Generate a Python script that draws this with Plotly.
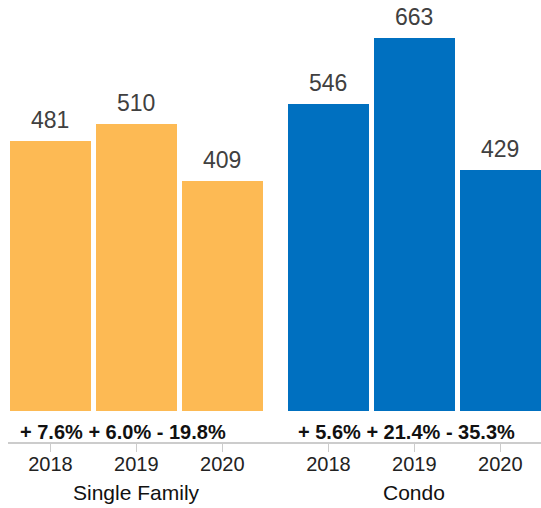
import plotly.graph_objects as go

# Sales counts by property type and year
years = ["2018", "2019", "2020"]
groups = ["Single Family", "Condo"]
single_family = [481, 510, 409]
condo = [546, 663, 429]
# Year-over-year change, percent
single_family_change = [7.6, 6.0, -19.8]
condo_change = [5.6, 21.4, -35.3]

colors = {"Single Family": "#FDBA54", "Condo": "#0070C0"}
font_family = "Liberation Sans, Arial, Helvetica, sans-serif"

group_gap = 0.235   # extra spacing between the two groups (in bar slots)
bar_width = 0.942

sf_pos = [i for i in range(len(years))]
condo_pos = [len(years) + group_gap + i for i in range(len(years))]


def fmt_change(v):
    sign = "+" if v >= 0 else "-"
    return f"{sign} {abs(v):.1f}%"


fig = go.Figure()
for name, pos, vals in [("Single Family", sf_pos, single_family),
                        ("Condo", condo_pos, condo)]:
    fig.add_trace(go.Bar(
        x=pos, y=vals, width=bar_width, name=name,
        marker=dict(color=colors[name], line=dict(width=0)),
        hoverinfo="skip",
    ))

annotations = []
# Value labels above each bar
for pos, vals in [(sf_pos, single_family), (condo_pos, condo)]:
    for p, v in zip(pos, vals):
        annotations.append(dict(
            x=p, y=v, xref="x", yref="y", text=str(v), showarrow=False,
            yanchor="bottom", yshift=6,
            font=dict(family=font_family, size=23, color="#404040"),
        ))

# Change strings under each group
for pos, changes in [(sf_pos, single_family_change), (condo_pos, condo_change)]:
    annotations.append(dict(
        x=pos[0] - bar_width / 2, y=0, xref="x", yref="y",
        text="<b>" + " ".join(fmt_change(c) for c in changes) + "</b>",
        showarrow=False, xanchor="left", yanchor="top", xshift=8, yshift=-8,
        font=dict(family=font_family, size=20, color="#111111"),
    ))

# Group titles
for pos, name in [(sf_pos, "Single Family"), (condo_pos, "Condo")]:
    annotations.append(dict(
        x=pos[1], y=0, xref="x", yref="paper", text=name, showarrow=False,
        yanchor="top", yshift=-37,
        font=dict(family=font_family, size=21, color="#111111"),
    ))

fig.update_layout(
    width=541, height=508,
    margin=dict(l=8, r=0, t=0, b=66),
    paper_bgcolor="white", plot_bgcolor="white",
    showlegend=False, bargap=0,
    annotations=annotations,
    xaxis=dict(
        range=[-0.494, 5.709],
        tickvals=sf_pos + condo_pos, ticktext=years + years,
        ticks="outside", ticklen=8, tickcolor="#cccccc", tickwidth=1,
        ticklabelstandoff=-5,
        showline=True, linecolor="#cccccc", linewidth=2,
        showgrid=False, zeroline=False,
        tickfont=dict(family=font_family, size=20, color="#222222"),
    ),
    yaxis=dict(
        range=[-54.2, 730.9], visible=False, showgrid=False, zeroline=False,
    ),
)

fig.write_html("out.html")
